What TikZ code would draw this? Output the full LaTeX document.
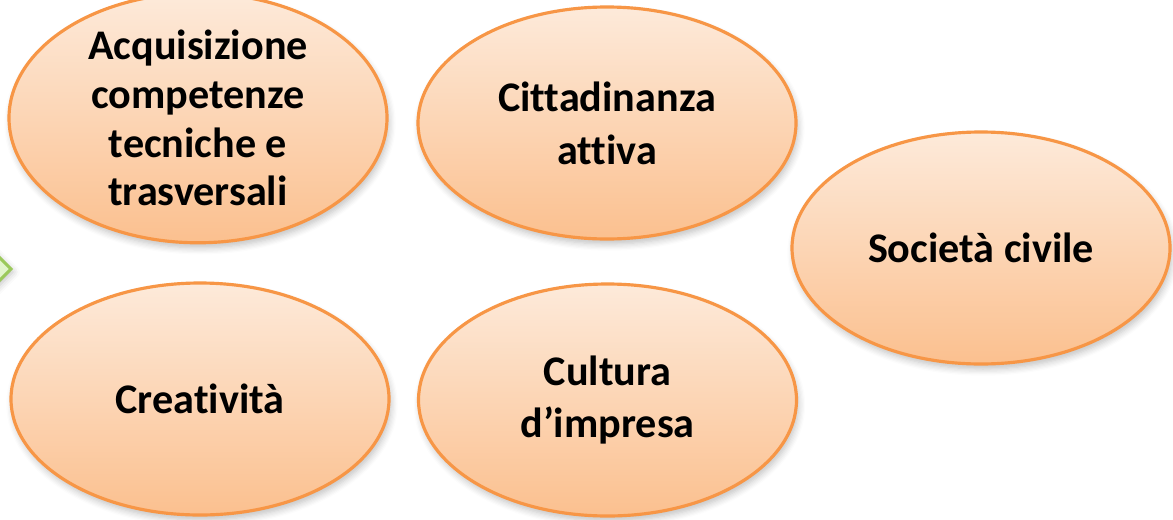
\documentclass[tikz,border=0pt]{standalone}
\usepackage{fontspec}
\setmainfont[Ligatures=NoCommon]{Carlito}
\usepackage{tikz}
\usetikzlibrary{shapes.geometric,shadows.blur}

\definecolor{peachtop}{RGB}{253,234,218}
\definecolor{peachbot}{RGB}{251,192,143}
\definecolor{peachline}{RGB}{247,150,70}
\definecolor{leaffill}{RGB}{226,245,203}
\definecolor{leafline}{RGB}{155,201,91}

\tikzset{
  bubble/.style={ellipse,draw=peachline,line width=0.9pt,
    top color=peachtop,bottom color=peachbot,
    minimum width=3.78cm,minimum height=2.32cm,inner sep=0pt,
    align=center,font=\fontsize{12}{15}\selectfont\bfseries,
    blur shadow={shadow xshift=0.02cm,shadow yshift=-0.05cm,shadow blur steps=6,shadow opacity=25}}
}

\begin{document}
\begin{tikzpicture}
\useasboundingbox (0,0) rectangle (11.73,5.19);
% tip of the green arrow at the left edge
\draw[leafline,fill=leaffill,line width=0.9pt,blur shadow={shadow xshift=0.02cm,shadow yshift=-0.03cm,shadow opacity=25}]
  (-0.19,2.80)--(0.11,2.50)--(-0.19,2.20)--cycle;
% the five themes
\node[bubble,font=\fontsize{12}{13.9}\selectfont\bfseries] (acq) at (1.98,4.01) {Acquisizione\\competenze\\tecniche e\\trasversali};
\node[bubble] (cit) at (6.07,3.96) {Cittadinanza\\attiva};
\node[bubble] (soc) at (9.81,2.71) {Società civile};
\node[bubble] (cre) at (2.00,1.20) {Creatività};
\node[bubble] (cul) at (6.075,1.19) {Cultura\\d’impresa};
\end{tikzpicture}
\end{document}
